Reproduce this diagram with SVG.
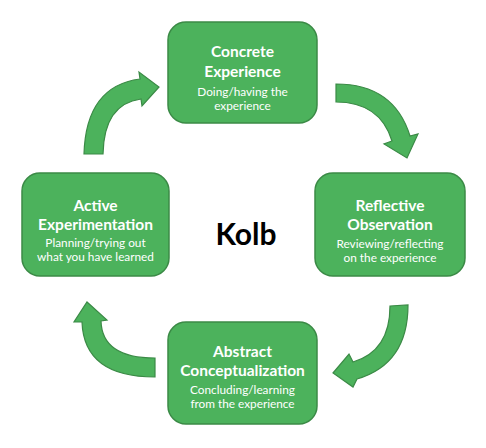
<svg xmlns="http://www.w3.org/2000/svg" width="486" height="448" viewBox="0 0 486 448">
<style>
.box{fill:#4cb25c;stroke:#3b8a46;stroke-width:1.5}
.arr{fill:#4cb25c;stroke:#3b8a46;stroke-width:1.2;stroke-linejoin:miter}
.t{font-family:Lato,"Liberation Sans",sans-serif;font-weight:bold;font-size:15.5px;fill:#fff;text-anchor:middle}
.s{font-family:Lato,"Liberation Sans",sans-serif;font-size:11.8px;fill:#fff;text-anchor:middle}
.k{font-family:Lato,"Liberation Sans",sans-serif;font-weight:bold;font-size:30px;fill:#000;text-anchor:middle}
</style>
<rect width="486" height="448" fill="#fff"/>
<g id="connectors">
<path class="arr" d="M336,84 Q394,84 410,136 L418,134 L407,158 L384,144 L392,141 Q380,102 336,102 Z"/>
<path class="arr" d="M390,306 L408,305 Q408,364 357,379 L353,387 L333,373 L349,354 L353,362 Q390,351 390,306 Z"/>
<path class="arr" d="M155,358 L155,377 Q84,377 82,322 L74,322 L87,302 L107,320 L101,321 Q102,358 155,358 Z"/>
<path class="arr" d="M84,154 Q86,86 140,79 L139,72 L159,87 L142,106 L141,99 Q104,104 103,154 Z"/>
</g>
<g id="concrete">
<rect class="box" x="168" y="22" width="149" height="101" rx="18"/>
<text class="t" x="242.5" y="57">Concrete</text>
<text class="t" x="242.5" y="77">Experience</text>
<text class="s" x="242.5" y="96">Doing/having the</text>
<text class="s" x="242.5" y="110">experience</text>
</g>
<g id="reflective">
<rect class="box" x="315" y="173" width="150" height="103" rx="18"/>
<text class="t" x="390" y="211">Reflective</text>
<text class="t" x="390" y="230">Observation</text>
<text class="s" x="390" y="248">Reviewing/reflecting</text>
<text class="s" x="390" y="262">on the experience</text>
</g>
<g id="abstract">
<rect class="box" x="168" y="322" width="149" height="102" rx="18"/>
<text class="t" x="242.5" y="357">Abstract</text>
<text class="t" x="242.5" y="376">Conceptualization</text>
<text class="s" x="242.5" y="394">Concluding/learning</text>
<text class="s" x="242.5" y="408">from the experience</text>
</g>
<g id="active">
<rect class="box" x="22" y="173" width="147" height="103" rx="18"/>
<text class="t" x="95.5" y="211">Active</text>
<text class="t" x="95.5" y="230">Experimentation</text>
<text class="s" x="95.5" y="247">Planning/trying out</text>
<text class="s" x="95.5" y="261">what you have learned</text>
</g>
<g id="kolb">
<text class="k" x="246" y="245">Kolb</text>
</g>
</svg>
